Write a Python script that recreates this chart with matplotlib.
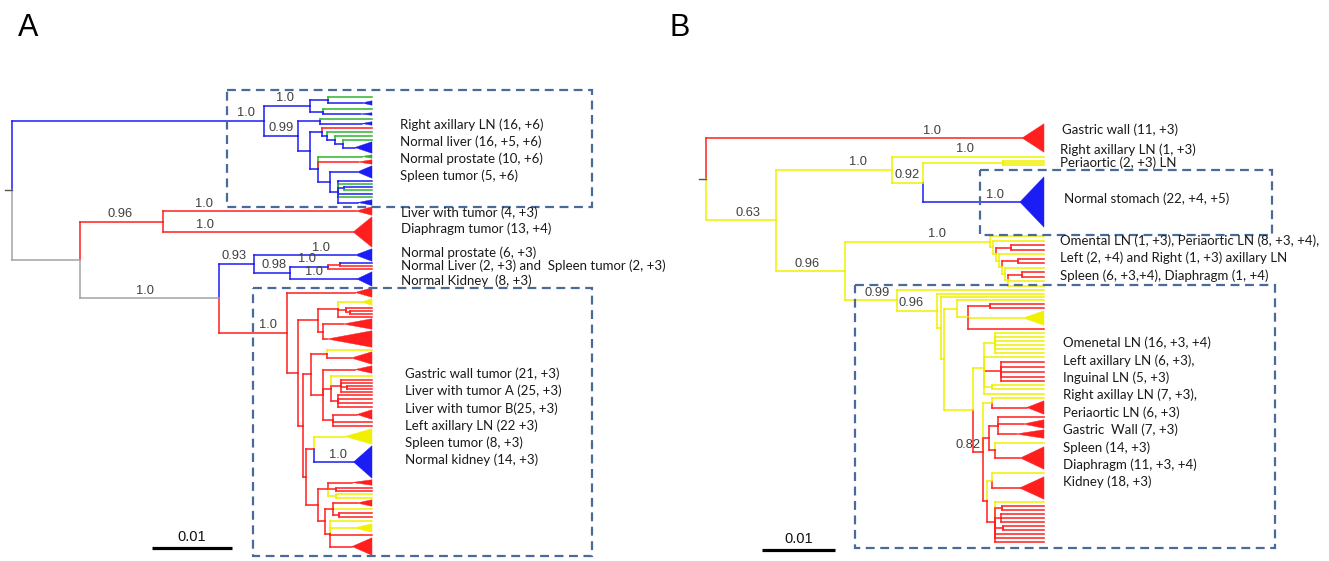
import matplotlib
matplotlib.use('Agg')
import matplotlib.pyplot as plt
from matplotlib.collections import LineCollection
from matplotlib.patches import Polygon, Rectangle

# branch colours by code
CLR = {'r': '#ff1f1f', 'b': '#1c1cf5', 'g': '#2db52d', 'y': '#f0f000', 'k': '#a3a3a3'}

# Tree format (branch lengths in units of 0.001 substitutions/site):
#   node     = [colour, length, [children], support, label_pos]
#   leaf     = (colour, slot)                      line running to the tips
#   clade    = (colour, slot, length_to_apex)      collapsed clade (triangle)
#   spacer   = (None, slot)
# support/label_pos are optional on any item.

# ---------------- panel A ----------------
A_BLUE_CLADE = ['b', 31.5, [
    ['b', 5.75, [
        ['b', 2.25, [('g', 6), ('b', 6, 4.25)]],
        ['b', 1.6, [('g', 6), ('b', 4, 4.6)]],
    ], '1.0', 0.45],
    ['b', 4.25, [
        ['b', 2.75, [('g', 5), ('b', 5, 5.25)]],
        ['b', 1.5, [
            ['b', 1.5, [('r', 4), ['b', 0.6, [('g', 4), ['b', 1.0, [('g', 4), ['b', 1.0, [('g', 3), ('b', 13, 1.5)]]]]]]]],
            ['b', 1.0, [
                ('g', 5, 5.5),
                ('r', 6, 5.0),
                ['b', 1.5, [('b', 14, 3.4), ['b', 1.0, [('b', 3), ('g', 3), ['b', 0.8, [('b', 3), ('g', 4)]],
                                                         ('b', 3), ('g', 4), ('b', 7, 2.5)]]]],
            ]],
        ]],
    ], '0.99', 0.5],
], '1.0', 0.93]

A_RED_PAIR = ['r', 10.4, [('r', 10, 24.1, '1.0', 0.21), ('r', 32, 23.75, '1.0', 0.22)], '0.96', 0.48]

A_BLUE_MID = ['b', 4.4, [
    ('b', 14, 12.6, '1.0', 0.66),
    ['b', 4.4, [
        ['b', 4.75, [['r', 1.5, [('b', 2.5), ('r', 2.5)]], ('r', 4)], '1.0', 0.45],
        ('b', 16, 8.4, '1.0', 0.36),
    ], '0.98', 0.57],
], '0.93', 0.43]

A_BIG_RED = ['r', 8.5, [
    ('r', 11, 8.5),
    ['r', 1.4, [
        ['r', 2.5, [
            ['r', 2.4, [('y', 8, 3.0), ['r', 1.0, [('r', 3), ['r', 0.6, [('r', 3), ('r', 3)]]]], ('r', 3)]],
            ['r', 0.6, [('r', 12, 2.5), ('r', 18, 0.5)]],
        ]],
        ['r', 0.6, [
            ['r', 1.0, [
                ['r', 2.0, [('y', 3), ('r', 14, 3.0)]],
                ['r', 1.5, [
                    ('r', 9, 4.0),
                    ['r', 1.0, [('y', 4),
                                ['r', 1.2, [('r', 3), ('r', 3), ['r', 0.8, [('r', 3), ('r', 3)]], ('r', 3)]],
                                ['r', 0.8, [('r', 4), ('r', 4), ('r', 4), ('r', 4)]]]],
                    ['r', 1.2, [('r', 11, 3.0), ('r', 4), ('r', 4)]],
                ]],
            ]],
            ['r', 0.4, [
                ['r', 0.9, [('y', 17, 3.9), ('b', 34, 5.0, '1.0', 0.6)]],
                ['r', 1.5, [
                    ['r', 1.2, [('r', 7, 3.0), ['r', 1.0, [('r', 3), ('r', 3)]], ['y', 1.0, [('y', 4), ('y', 3)]]]],
                    ['r', 0.8, [
                        ['r', 1.0, [('r', 8, 3.0), ('y', 4), ['r', 0.8, [('r', 4), ('r', 4)]]]],
                        ['r', 0.6, [('y', 4), ('y', 10, 3.0), ('r', 4), ('r', 19, 2.8)]],
                    ]],
                ]],
            ]],
        ]],
    ]],
], '1.0', 0.72]

A_TREE = ['k', 0, [A_BLUE_CLADE, ['k', 8.5, [A_RED_PAIR, ['k', 17.4, [A_BLUE_MID, A_BIG_RED], '1.0', 0.47]]]]]

# ---------------- panel B ----------------
B_GASTRIC = ('r', 30, 43.3, '1.0', 0.715)

B_UPPER = ['y', 15.9, [
    ('y', 7, None, '1.0', 0.48),
    ['y', 4.2, [
        ['y', 11.0, [('y', 2), ('y', 2), ('y', 2)]],
        (None, 10),
        ('b', 52, 13.3, '1.0', 0.74),
    ], '0.92', 0.5],
], '1.0', 0.71]

# ladder of lymph-node samples under the 1.0 branch (built bottom-up)
B_LAD6 = ['y', 0.4, [['r', 2.0, [('r', 4.5), ('r', 4.5)]], ('y', 4.5), ('y', 4.5)]]
B_LAD5 = ['y', 0.4, [('y', 4.5), B_LAD6]]
B_LAD4 = ['y', 0.4, [['r', 2.2, [('r', 4.5), ('r', 4.5)]], B_LAD5]]
B_LAD3 = ['y', 0.4, [('y', 4.5), B_LAD4]]
B_LAD2 = ['y', 0.4, [['r', 2.0, [('r', 4.5), ('r', 4.5)]], B_LAD3]]
B_LAD1 = ['y', 0.4, [('y', 4.5), B_LAD2]]
B_SUB1 = ['y', 19.9, [(None, 6), ('y', 4.5), B_LAD1], '1.0', 0.63]

B_G1 = ['y', 1.8, [('y', 4),
                   ['y', 1.5, [['r', 3.0, [('r', 4), ('r', 4)]], ('y', 16, 7.5), ('r', 5)]]]]

B_G2 = ['y', 1.6, [['y', 1.4, [('y', 4), ('y', 4), ('y', 4), ('y', 4), ('y', 4), ('y', 4)]],
                   ('y', 4),
                   ['r', 2.2, [('r', 5), ('r', 5), ('r', 5), ('r', 5), ('r', 4)]],
                   ['y', 1.0, [('y', 4), ('y', 4)]],
                   ('y', 5)]]

B_G3 = ['r', 1.4, [
    ['y', 1.2, [('y', 4), ('r', 15, 4.8)]],
    ['r', 0.8, [
        ['r', 1.2, [('r', 4), ('r', 10, 3.5), ('r', 10, 2.5)]],
        ['r', 0.8, [('y', 7), ('r', 24, 3.5)]],
    ]],
    ['r', 0.6, [
        ['y', 0.6, [('y', 6), ('r', 24, 3.8)]],
        ['r', 1.0, [('y', 4), ['r', 1.0, [('r', 4), ('r', 4)]], ['r', 0.8, [('r', 4), ('r', 4), ('r', 4)]],
                    ['r', 1.2, [('r', 4), ('r', 4)]], ('r', 4), ('r', 4), ('r', 4)]],
    ]],
], '0.82', -0.5]

B_LOWER = ['y', 7.1, [
    ('y', 4),
    ['y', 5.5, [
        ('y', 3),
        ['y', 0.5, [('y', 3), ['y', 0.5, [B_G1, ['y', 3.9, [B_G2, B_G3]]]]]],
    ], '0.96', 0.35],
], '0.99', 0.62]

B_TREE = ['k', 0, [B_GASTRIC, ['y', 9.6, [B_UPPER, ['y', 9.45, [B_SUB1, B_LOWER], '0.96', 0.45]], '0.63', 0.6]]]

# ---------------- text ----------------
A_TOP_NAMES = ['Right axillary LN (16, +6)', 'Normal liver (16, +5, +6)',
               'Normal prostate (10, +6)', 'Spleen tumor (5, +6)']
A_MID_NAMES = ['Liver with tumor (4, +3)', 'Diaphragm tumor (13, +4)',
               'Normal prostate (6, +3)', 'Normal Liver (2, +3) and  Spleen tumor (2, +3)',
               'Normal Kidney  (8, +3)']
A_LOW_NAMES = ['Gastric wall tumor (21, +3)', 'Liver with tumor A (25, +3)',
               'Liver with tumor B(25, +3)', 'Left axillary LN (22 +3)',
               'Spleen tumor (8, +3)', 'Normal kidney (14, +3)']
B_TOP_NAMES = ['Gastric wall (11, +3)', 'Right axillary LN (1, +3)', 'Periaortic (2, +3) LN',
               'Normal stomach (22, +4, +5)',
               'Omental LN (1, +3), Periaortic LN (8, +3, +4),',
               'Left (2, +4) and Right (1, +3) axillary LN',
               'Spleen (6, +3,+4), Diaphragm (1, +4)']
B_LOW_NAMES = ['Omenetal LN (16, +3, +4)', 'Left axillary LN (6, +3),', 'Inguinal LN (5, +3)',
               'Right axillay LN (7, +3),', 'Periaortic LN (6, +3)', 'Gastric  Wall (7, +3)',
               'Spleen (14, +3)', 'Diaphragm (11, +3, +4)', 'Kidney (18, +3)']

W, H = 1329, 561
LABEL_FONT = ['Lato', 'Liberation Sans', 'DejaVu Sans']
NUM_FONT = ['Liberation Sans', 'DejaVu Sans']


def build(item, x0, cur, tip, segs, tris, labels):
    if isinstance(item, list):
        color, length, children = item[0], item[1], item[2]
        x = x0 + length
        kids = [(build(ch, x, cur, tip, segs, tris, labels), ch[0]) for ch in children]
        kids = [k for k in kids if k[0] is not None]
        y = (kids[0][0] + kids[-1][0]) / 2
        for cy, cc in kids:
            segs.append(([(x, y), (x, cy)], CLR[cc]))
        end = x
    else:
        color, h = item[0], item[1]
        y = cur[0] + h / 2
        cur[0] += h
        if color is None:
            return None
        length = item[2] if len(item) > 2 else None
        if length is None:
            end = tip
        else:
            end = x0 + length
            dh = (h - 1.5) / 2
            tris.append(([(end, y), (tip, y - dh), (tip, y + dh)], CLR[color]))
    if end > x0:
        segs.append(([(x0, y), (end, y)], CLR[color]))
    if len(item) > 3 and item[3]:
        labels.append((x0 + item[4] * (end - x0), y, item[3]))
    return y


def draw_panel(rect, tree, root_px, scale, tip, y_top, bar_px, bar_y):
    ax = fig.add_axes(rect)
    left_px = rect[0] * W
    right_px = (rect[0] + rect[2]) * W
    ax.set_xlim((left_px - root_px) / scale, (right_px - root_px) / scale)
    ax.set_ylim(H, 0)
    ax.axis('off')
    segs, tris, labels = [], [], []
    y_root = build(tree, 0.0, [y_top], tip, segs, tris, labels)
    ax.add_collection(LineCollection([s for s, c in segs], colors=[c for s, c in segs],
                                     linewidths=1.1, capstyle='projecting'))
    for pts, c in tris:
        ax.add_patch(Polygon(pts, closed=True, facecolor=c, edgecolor=c, lw=0.3))
    for lx, ly, txt in labels:
        ax.text(lx, ly - 1.5, txt, ha='center', va='bottom', fontsize=9.3,
                color='#404040', family=NUM_FONT)
    ax.plot([-0.9, 0], [y_root, y_root], color='#555555', lw=1.0)
    # scale bar: 0.01 substitutions = 10 units
    sx = (bar_px - root_px) / scale
    ax.plot([sx, sx + 10], [bar_y, bar_y], color='black', lw=2.3, solid_capstyle='butt')
    ax.text(sx + 5, bar_y - 4, '0.01', ha='center', va='bottom', fontsize=10.5,
            family=NUM_FONT, color='#111111')
    return ax


fig = plt.figure(figsize=(W / 100, H / 100), dpi=100)
fig.patch.set_facecolor('white')

draw_panel([0, 0, 0.5, 1], A_TREE, 12, 8.0, 45.0, 94, 152, 548)
draw_panel([0.5, 0, 0.5, 1], B_TREE, 706, 7.3, 46.3, 123, 762, 550)

# overlay in pixel coordinates for boxes, names and panel letters
ov = fig.add_axes([0, 0, 1, 1])
ov.set_xlim(0, W)
ov.set_ylim(H, 0)
ov.axis('off')

BOX = dict(fill=False, edgecolor='#4a6a9c', lw=1.6, linestyle=(0, (4, 2.5)))
for x0, y0, x1, y1 in [(227, 90, 592, 207), (253, 288, 592, 556),
                       (980, 170, 1272, 235), (855, 285, 1275, 548)]:
    ov.add_patch(Rectangle((x0, y0), x1 - x0, y1 - y0, **BOX))

TXT = dict(fontsize=9.5, family=LABEL_FONT, color='#1a1a1a', va='center', ha='left')
for i, s in enumerate(A_TOP_NAMES):
    ov.text(400, 125 + 17 * i, s, **TXT)
for s, y in zip(A_MID_NAMES, [213, 229, 253, 266, 281]):
    ov.text(401, y, s, **TXT)
for i, s in enumerate(A_LOW_NAMES):
    ov.text(405, 374 + 17.2 * i, s, **TXT)
for s, x, y in zip(B_TOP_NAMES, [1062, 1060, 1060, 1064, 1060, 1060, 1060],
                   [130, 150, 163, 199, 241, 258, 276]):
    ov.text(x, y, s, **TXT)
for i, s in enumerate(B_LOW_NAMES):
    ov.text(1063, 343 + 17.375 * i, s, **TXT)

ov.text(28, 28, 'A', fontsize=22, family=NUM_FONT, ha='center', va='center')
ov.text(680, 28, 'B', fontsize=22, family=NUM_FONT, ha='center', va='center')

fig.savefig('out.png', dpi=100, facecolor='white')
